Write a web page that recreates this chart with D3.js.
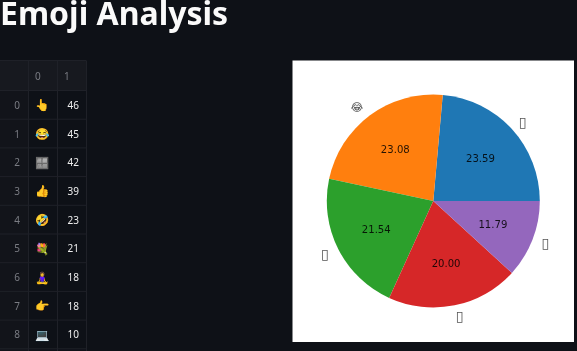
<!DOCTYPE html>
<html><head><meta charset="utf-8">
<script src="https://cdn.jsdelivr.net/npm/d3@7"></script>
<style>html,body{margin:0;padding:0;background:#0e1117;overflow:hidden}svg{display:block;opacity:.999}</style>
</head><body><svg id="c" width="577" height="351"></svg>
<script>
const titleText = "Emoji Analysis";
const columnLabels = ["", "0", "1"];
const rowIndex = [0,1,2,3,4,5,6,7,8];
const tableEmoji = ["👆","😂","🪟","👍","🤣","💐","🧘‍♀️","👉","💻"];
const tableCounts = [46,45,42,39,23,21,18,18,10];
const pieValues = [46,45,42,39,23];
const pieLabels = ["\u25AF","😂","\u25AF","\u25AF","\u25AF"];
const pieLabelSizes = [14,11,14,14,14];
const pieColors = ["#1f77b4","#ff7f0e","#2ca02c","#d62728","#9467bd"];

const svg = d3.select("#c");
svg.append("text").text(titleText).attr("x",0).attr("y",25)
  .attr("font-family","'Noto Sans'").attr("font-weight",700).attr("font-size",32).attr("fill","#fafafa");

// table
const colX = d3.scaleOrdinal().domain(columnLabels).range([-1,28.5,57.5]);
const colEnd = 86.5;
const headH = 29.5, top0 = 61;
const rowY = d3.scaleBand().domain(rowIndex).range([top0+headH, top0+headH+28.7*rowIndex.length]);
const tf = "'Noto Sans',sans-serif";
const t = svg.append("g");
t.append("rect").attr("x",0).attr("y",top0).attr("width",colEnd).attr("height",headH).attr("fill","#17191f");
t.append("rect").attr("x",0).attr("y",top0+headH).attr("width",28.5).attr("height",290).attr("fill","#12141a");
const gl = "#1f2128";
[28.5,57.5,86.5].forEach(x=>t.append("line").attr("x1",x).attr("x2",x).attr("y1",top0).attr("y2",351).attr("stroke",gl));
[top0-.5, ...rowIndex.map(r=>rowY(r)), rowY(8)+rowY.bandwidth()].forEach(y=>
  t.append("line").attr("x1",0).attr("x2",colEnd).attr("y1",y).attr("y2",y).attr("stroke",gl));
t.selectAll(null).data(columnLabels.slice(1)).join("text").text(d=>d)
  .attr("x",d=>colX(d)+6.5).attr("y",top0+19).attr("font-family",tf).attr("font-size",10).attr("fill","#7a7c83");
const rows = t.selectAll(null).data(rowIndex).join("g").attr("transform",r=>`translate(0,${rowY(r)+rowY.bandwidth()/2+4})`);
rows.append("text").text(r=>r).attr("x",20).attr("text-anchor","end").attr("font-family",tf).attr("font-size",10).attr("fill","#7a7c83");
rows.append("text").text(r=>tableEmoji[r]).attr("x",42.5).attr("y",.5).attr("text-anchor","middle").attr("font-size",11.5).attr("fill","#fafafa").attr("font-family","'Noto Color Emoji',sans-serif")
  .style("filter",r=>r===2?"grayscale(1) brightness(.7)":null);
rows.append("text").text(r=>tableCounts[r]).attr("x",79).attr("text-anchor","end").attr("font-family",tf).attr("font-size",10).attr("fill","#eeeeee");

// pie panel
svg.append("rect").attr("x",292.5).attr("y",60.5).attr("width",281.5).attr("height",281.5).attr("fill","#fff");
const R = 106.5;
const g = svg.append("g").attr("transform","translate(433.3,201)");
const pie = d3.pie().sort(null).startAngle(Math.PI/2).endAngle(Math.PI/2-2*Math.PI);
const arcs = pie(pieValues);
const arc = d3.arc().innerRadius(0).outerRadius(R);
g.selectAll("path").data(arcs).join("path").attr("d",arc).attr("fill",(d,i)=>pieColors[i]);
const total = d3.sum(pieValues);
const pctArc = d3.arc().innerRadius(R*.6).outerRadius(R*.6);
const lblArc = d3.arc().innerRadius(R*1.1).outerRadius(R*1.1);
const df = "'DejaVu Sans'";
g.selectAll("text.p").data(arcs).join("text").attr("class","p")
  .attr("transform",d=>`translate(${pctArc.centroid(d)})`).attr("text-anchor","middle").attr("dy","0.36em")
  .attr("font-family",df).attr("font-size",10.1).attr("fill","#000").attr("fill-opacity",.85)
  .text(d=>d3.format(".2f")(d.value/total*100));
g.selectAll("text.l").data(arcs).join("text").attr("class","l")
  .attr("transform",d=>`translate(${lblArc.centroid(d)})`)
  .attr("text-anchor",d=>lblArc.centroid(d)[0]>=0?"start":"end").attr("dy","0.36em")
  .attr("dx",d=>lblArc.centroid(d)[0]>=0?-1:0)
  .attr("font-family",df).attr("font-size",(d,i)=>pieLabelSizes[i]).attr("fill","#555")
  .text((d,i)=>pieLabels[i]);
</script></body></html>
